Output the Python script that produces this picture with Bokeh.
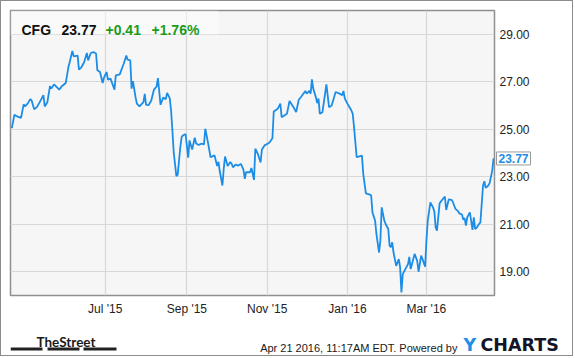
import pandas as pd
from bokeh.plotting import figure
from bokeh.layouts import column
from bokeh.models import (ColumnDataSource, Range1d, FixedTicker, DatetimeTickFormatter,
                          NumeralTickFormatter, Label, BoxAnnotation)
from bokeh.embed import file_html
from bokeh.resources import INLINE

# ---------------- data ----------------
dates = [
    "2015-04-21", "2015-04-23", "2015-04-25", "2015-04-28", "2015-04-30", "2015-05-01", "2015-05-03",
    "2015-05-05", "2015-05-06", "2015-05-08", "2015-05-10", "2015-05-12", "2015-05-15", "2015-05-16",
    "2015-05-18", "2015-05-20", "2015-05-21", "2015-05-23", "2015-05-25", "2015-05-27", "2015-05-29",
    "2015-06-01", "2015-06-03", "2015-06-04", "2015-06-06", "2015-06-07", "2015-06-10", "2015-06-11",
    "2015-06-13", "2015-06-15", "2015-06-17", "2015-06-18", "2015-06-20", "2015-06-22", "2015-06-24",
    "2015-06-25", "2015-06-27", "2015-06-29", "2015-06-30", "2015-07-02", "2015-07-03", "2015-07-05",
    "2015-07-08", "2015-07-09", "2015-07-12", "2015-07-15", "2015-07-17", "2015-07-18", "2015-07-20",
    "2015-07-21", "2015-07-22", "2015-07-24", "2015-07-25", "2015-07-27", "2015-07-30", "2015-07-31",
    "2015-08-01", "2015-08-03", "2015-08-05", "2015-08-07", "2015-08-09", "2015-08-10", "2015-08-12",
    "2015-08-14", "2015-08-16", "2015-08-17", "2015-08-19", "2015-08-20", "2015-08-21", "2015-08-22",
    "2015-08-24", "2015-08-25", "2015-08-27", "2015-08-28", "2015-08-29", "2015-08-31", "2015-09-02",
    "2015-09-03", "2015-09-05", "2015-09-07", "2015-09-08", "2015-09-10", "2015-09-12", "2015-09-14",
    "2015-09-15", "2015-09-17", "2015-09-19", "2015-09-20", "2015-09-22", "2015-09-24", "2015-09-25",
    "2015-09-26", "2015-09-28", "2015-09-29", "2015-09-30", "2015-10-02", "2015-10-04", "2015-10-05",
    "2015-10-06", "2015-10-08", "2015-10-10", "2015-10-12", "2015-10-14", "2015-10-15", "2015-10-16",
    "2015-10-19", "2015-10-20", "2015-10-22", "2015-10-23", "2015-10-25", "2015-10-27", "2015-10-28",
    "2015-10-30", "2015-11-02", "2015-11-03", "2015-11-05", "2015-11-06", "2015-11-09", "2015-11-11",
    "2015-11-12", "2015-11-16", "2015-11-18", "2015-11-21", "2015-11-23", "2015-11-25", "2015-11-27",
    "2015-11-30", "2015-12-01", "2015-12-03", "2015-12-04", "2015-12-05", "2015-12-06", "2015-12-08",
    "2015-12-09", "2015-12-10", "2015-12-11", "2015-12-13", "2015-12-16", "2015-12-18", "2015-12-20",
    "2015-12-23", "2015-12-26", "2015-12-28", "2015-12-29", "2015-12-30", "2016-01-01", "2016-01-04",
    "2016-01-05", "2016-01-06", "2016-01-08", "2016-01-10", "2016-01-12", "2016-01-13", "2016-01-15",
    "2016-01-18", "2016-01-19", "2016-01-20", "2016-01-22", "2016-01-23", "2016-01-25", "2016-01-26",
    "2016-01-27", "2016-01-29", "2016-01-30", "2016-02-01", "2016-02-02", "2016-02-03", "2016-02-04",
    "2016-02-05", "2016-02-06", "2016-02-07", "2016-02-09", "2016-02-10", "2016-02-11", "2016-02-12",
    "2016-02-14", "2016-02-16", "2016-02-17", "2016-02-18", "2016-02-19", "2016-02-21", "2016-02-23",
    "2016-02-24", "2016-02-26", "2016-02-27", "2016-02-29", "2016-03-01", "2016-03-02", "2016-03-04",
    "2016-03-06", "2016-03-07", "2016-03-08", "2016-03-09", "2016-03-11", "2016-03-13", "2016-03-15",
    "2016-03-16", "2016-03-18", "2016-03-20", "2016-03-21", "2016-03-23", "2016-03-25", "2016-03-26",
    "2016-03-28", "2016-03-29", "2016-03-30", "2016-03-31", "2016-04-01", "2016-04-03", "2016-04-05",
    "2016-04-06", "2016-04-07", "2016-04-08", "2016-04-10", "2016-04-11", "2016-04-13", "2016-04-14",
    "2016-04-15", "2016-04-17", "2016-04-18", "2016-04-20", "2016-04-21",
]
close = [
    25.05, 25.61, 25.54, 25.48, 26.05, 25.96, 26.08,
    26.27, 26.22, 25.84, 25.93, 26.12, 26.44, 25.96,
    26.14, 26.81, 26.71, 26.89, 26.78, 26.67, 26.81,
    26.95, 27.62, 27.83, 28.30, 28.07, 28.10, 27.51,
    27.62, 27.83, 28.21, 27.90, 28.21, 28.25, 28.19,
    27.48, 27.41, 26.95, 27.17, 27.41, 27.09, 27.13,
    26.67, 27.27, 27.31, 27.76, 28.10, 27.93, 27.90,
    26.71, 27.03, 26.35, 26.08, 25.96, 26.14, 26.49,
    26.03, 26.02, 26.22, 26.67, 26.80, 27.15, 26.03,
    26.33, 26.27, 26.53, 26.30, 25.79, 24.95, 24.03,
    23.03, 23.08, 24.24, 24.67, 24.74, 24.80, 23.80,
    24.53, 24.15, 24.64, 24.40, 24.34, 24.39, 24.36,
    25.02, 24.45, 23.82, 23.85, 23.90, 23.45, 23.63,
    23.23, 22.63, 23.33, 23.85, 23.45, 23.62, 23.55,
    23.40, 23.51, 23.47, 23.54, 23.30, 22.91, 23.19,
    23.19, 23.37, 22.87, 24.18, 23.95, 23.60, 24.15,
    24.32, 24.41, 24.46, 24.62, 25.75, 25.86, 26.08,
    25.51, 25.65, 26.19, 25.93, 25.72, 26.24, 26.38,
    26.61, 26.50, 26.61, 26.50, 27.10, 26.71, 26.35,
    26.10, 26.29, 25.65, 25.72, 26.89, 25.93, 26.00,
    26.57, 26.50, 26.43, 26.61, 26.29, 26.08, 25.79,
    25.65, 25.09, 23.82, 23.86, 23.89, 23.12, 22.30,
    22.25, 22.21, 21.50, 21.15, 20.59, 19.81, 20.31,
    21.71, 21.15, 21.01, 20.80, 20.10, 20.03, 20.24,
    19.81, 19.53, 19.25, 19.53, 19.18, 18.13, 18.90,
    19.11, 19.32, 19.63, 19.11, 19.32, 19.75, 19.46,
    19.00, 19.68, 19.53, 19.21, 20.31, 21.15, 21.92,
    21.71, 21.54, 20.87, 20.73, 21.88, 22.03, 22.17,
    21.60, 22.05, 22.03, 21.95, 21.65, 21.55, 21.46,
    21.41, 21.19, 21.26, 20.94, 21.29, 21.50, 20.76,
    21.29, 20.80, 20.84, 21.01, 21.08, 22.63, 22.81,
    22.53, 22.63, 22.73, 23.26, 23.77,
]
x_tick_dates = ["2015-07-01", "2015-09-01", "2015-11-01", "2016-01-01", "2016-03-01"]
y_ticks = [19, 21, 23, 25, 27, 29]
y_bounds = (18, 30)
x_bounds = ("2015-04-20 00:00", "2016-04-21 17:00")

ticker_sym = "CFG"
last_price = "23.77"
change_abs = "+0.41"
change_pct = "+1.76%"
stamp = "Apr 21 2016, 11:17AM EDT.  Powered by"

# ---------------- layout constants ----------------
FONT = "Liberation Sans"
W = 573
H_MAIN = 320
H_FOOT = 36
ML, MT, MR, MB = 9, 9, 80, 26
FRAME_H = H_MAIN - MT - MB
BORDER = "1px solid #8c8c8c"

# ---------------- main chart ----------------
dt = pd.to_datetime(dates)
src = ColumnDataSource(dict(date=dt, close=close))

p = figure(width=W, height=H_MAIN, output_backend="svg", toolbar_location=None,
           x_axis_type="datetime", y_axis_location="right",
           x_range=Range1d(pd.Timestamp(x_bounds[0]), pd.Timestamp(x_bounds[1])),
           y_range=Range1d(*y_bounds),
           min_border_left=ML, min_border_top=MT, min_border_right=MR, min_border_bottom=MB)
p.styles = {"border-top": BORDER, "border-left": BORDER, "border-right": BORDER}
p.background_fill_color = "#f6f6f6"
p.border_fill_color = "white"
p.outline_line_color = "#8f8f8f"
p.outline_line_width = 1.5

p.grid.grid_line_color = "#d8d8d8"
p.grid.grid_line_width = 1.2

p.xaxis.ticker = FixedTicker(ticks=[pd.Timestamp(d).value / 1e6 for d in x_tick_dates])
fmt = "%b '%y"
p.xaxis.formatter = DatetimeTickFormatter(days=fmt, months=fmt, years=fmt, hours=fmt)
p.yaxis.ticker = FixedTicker(ticks=y_ticks)
p.yaxis.formatter = NumeralTickFormatter(format="0.00")
p.xgrid.ticker = p.xaxis.ticker
p.ygrid.ticker = p.yaxis.ticker

for ax in (p.xaxis, p.yaxis):
    ax.axis_line_color = None
    ax.major_tick_line_color = None
    ax.minor_tick_line_color = None
    ax.major_tick_out = 0
    ax.major_tick_in = 0
    ax.minor_tick_out = 0
    ax.major_label_text_font = FONT
    ax.major_label_text_font_size = "12px"
    ax.major_label_text_color = "#222222"
p.xaxis.major_label_standoff = 6
p.yaxis.major_label_standoff = 5

p.line("date", "close", source=src, line_color="#1c8de6", line_width=1.8)

# header box
p.add_layout(BoxAnnotation(left=0, right=208, top=FRAME_H, bottom=FRAME_H - 24,
                           left_units="screen", right_units="screen",
                           top_units="screen", bottom_units="screen",
                           fill_color="white", fill_alpha=0.45, line_color=None))


def lab(fig, x, y, text, color="#111111", size="14px", bold=True, font=FONT, place=None, **kw):
    l = Label(x=x, y=y, x_units="screen", y_units="screen", text=text,
              text_color=color, text_font_size=size, text_font=font,
              text_font_style="bold" if bold else "normal", **kw)
    if place:
        fig.add_layout(l, place)
    else:
        fig.add_layout(l)
    return l


hy = FRAME_H - 19
lab(p, 11, hy, ticker_sym, text_baseline="alphabetic")
lab(p, 51, hy, last_price, text_baseline="alphabetic")
lab(p, 95, hy, change_abs, color="#1a9c1a", text_baseline="alphabetic")
lab(p, 141, hy, change_pct, color="#1a9c1a", text_baseline="alphabetic")

# price tag (right side panel, placed after the y axis, pulled back over it)
tag_y = (close[-1] - y_bounds[0]) / (y_bounds[1] - y_bounds[0]) * FRAME_H
lab(p, -36, tag_y, last_price, color="#1c8de6", size="12px", place="right",
    text_baseline="middle", border_line_color="#9a9a9a", background_fill_color="white",
    padding=2)

# ---------------- footer (its frame is aligned with the chart frame) ----------------
f = figure(width=W, height=H_FOOT, output_backend="svg", toolbar_location=None,
           x_axis_location=None, y_axis_location=None,
           x_range=Range1d(0, 1), y_range=Range1d(0, 1),
           min_border=0, min_border_left=ML, min_border_right=MR,
           min_border_top=0, min_border_bottom=0)
f.grid.visible = False
f.outline_line_color = None
f.background_fill_color = "white"
f.border_fill_color = "white"
f.styles = {"border-bottom": BORDER, "border-left": BORDER, "border-right": BORDER}

lab(f, 26, 15, "TheStreet", color="#1a1a1a", size="13.5px", font="Lato",
    text_baseline="alphabetic")
for l0, r0 in ((0, 32), (37, 69), (73, 106)):
    f.add_layout(BoxAnnotation(left=l0, right=r0, top=9, bottom=6,
                               left_units="screen", right_units="screen",
                               top_units="screen", bottom_units="screen",
                               fill_color="#222222", fill_alpha=1, line_color=None))
lab(f, 450, 9, stamp, color="#1a1a1a", size="11px", bold=False, text_align="right",
    text_baseline="alphabetic")
lab(f, 453, 12, "Y", color="#1c8fe8", size="17.5px", font="DejaVu Sans",
    text_baseline="alphabetic")
lab(f, -14, 12, "CHARTS", color="#141428", size="17.5px", font="DejaVu Sans",
    text_baseline="alphabetic", place="right")

layout = column(p, f, spacing=0)
open("out.html", "w").write(file_html(layout, INLINE))
